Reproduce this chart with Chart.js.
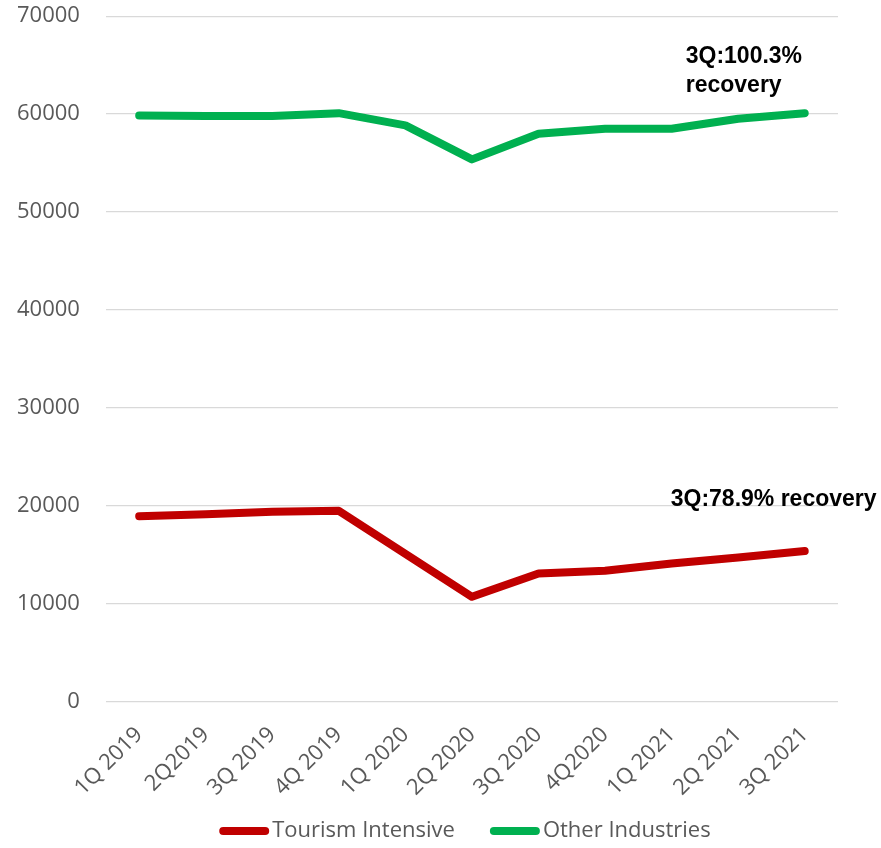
<!DOCTYPE html>
<html>
<head>
<meta charset="utf-8">
<script src="https://cdn.jsdelivr.net/npm/chart.js@4.4.0/dist/chart.umd.min.js"></script>
<style>
  html, body { margin: 0; padding: 0; background: #fff; }
  #wrap { width: 881px; height: 848px; position: relative; }
</style>
</head>
<body>
<div id="wrap"><canvas id="chart"></canvas></div>
<script>
const quarters = ['1Q 2019', '2Q2019', '3Q 2019', '4Q 2019', '1Q 2020', '2Q 2020',
                  '3Q 2020', '4Q2020', '1Q 2021', '2Q 2021', '3Q 2021'];
const tourismIntensive = [18950, 19150, 19390, 19490, 15100, 10710, 13100, 13370, 14120, 14730, 15380];
const otherIndustries  = [59850, 59800, 59820, 60100, 58850, 55380, 58000, 58510, 58510, 59530, 60100];
const notes = [
  { lines: ['3Q:100.3%', 'recovery'], series: 'other' },
  { lines: ['3Q:78.9% recovery'], series: 'tourism' }
];

const tickFont = { family: 'Open Sans', size: 22 };
const tickColor = '#595959';

// bold notes near the last quarter
const notesPlugin = {
  id: 'notes',
  afterDatasetsDraw(chart) {
    const ctx = chart.ctx;
    const x = chart.scales.x;
    const y = chart.scales.y;
    const last = quarters.length - 1;
    ctx.save();
    ctx.fillStyle = '#000';
    ctx.font = 'bold 23px "Liberation Sans"';
    ctx.textBaseline = 'alphabetic';
    ctx.textAlign = 'left';
    const gx = x.getPixelForValue(last) - 119;
    const gy = y.getPixelForValue(otherIndustries[last]) - 50;
    ctx.fillText(notes[0].lines[0], gx, gy);
    ctx.fillText(notes[0].lines[1], gx, gy + 29);
    const rx = x.getPixelForValue(last) - 134;
    const ry = y.getPixelForValue(tourismIntensive[last]) - 45;
    ctx.fillText(notes[1].lines[0], rx, ry);
    ctx.restore();
  }
};

// legend drawn by hand: thick line swatch right next to the text
const legendPlugin = {
  id: 'lineLegend',
  afterDraw(chart) {
    const ctx = chart.ctx;
    const area = chart.chartArea;
    const sw = 50, gap = 3, itemGap = 35;
    ctx.save();
    ctx.font = '22px "Open Sans"';
    const items = chart.data.datasets.map(ds => ({ ds, w: ctx.measureText(ds.label).width }));
    const total = items.reduce((s, it) => s + sw + gap + it.w, 0) + itemGap * (items.length - 1);
    let cx = (area.left + area.right) / 2 - total / 2 - 7;
    const cy = 831;
    ctx.textBaseline = 'middle';
    ctx.textAlign = 'left';
    for (const it of items) {
      ctx.strokeStyle = it.ds.borderColor;
      ctx.lineWidth = 8;
      ctx.lineCap = 'round';
      ctx.beginPath();
      ctx.moveTo(cx + 4, cy);
      ctx.lineTo(cx + sw - 4, cy);
      ctx.stroke();
      ctx.fillStyle = tickColor;
      ctx.fillText(it.ds.label, cx + sw + gap, cy);
      cx += sw + gap + it.w + itemGap;
    }
    ctx.restore();
  }
};

new Chart(document.getElementById('chart'), {
  type: 'line',
  data: {
    labels: quarters,
    datasets: [{
      label: 'Tourism Intensive',
      data: tourismIntensive,
      borderColor: '#c00000',
      backgroundColor: '#c00000',
      borderWidth: 8,
      borderCapStyle: 'round',
      borderJoinStyle: 'round',
      pointRadius: 0,
      tension: 0
    }, {
      label: 'Other Industries',
      data: otherIndustries,
      borderColor: '#00b050',
      backgroundColor: '#00b050',
      borderWidth: 8,
      borderCapStyle: 'round',
      borderJoinStyle: 'round',
      pointRadius: 0,
      tension: 0
    }]
  },
  options: {
    responsive: true,
    maintainAspectRatio: false,
    animation: false,
    layout: { padding: { left: 14, right: 43, top: 0, bottom: 35 } },
    scales: {
      x: {
        offset: true,
        grid: { display: false },
        border: { display: false },
        ticks: {
          font: tickFont,
          color: tickColor,
          maxRotation: 45,
          minRotation: 45,
          autoSkip: false,
          padding: 12
        }
      },
      y: {
        min: 0,
        max: 70000,
        grid: { color: '#d9d9d9', lineWidth: 1.3, tickLength: 23, tickColor: 'rgba(0,0,0,0)' },
        border: { display: false },
        ticks: {
          stepSize: 10000,
          font: tickFont,
          color: tickColor,
          padding: 3,
          callback: v => String(v)
        }
      }
    },
    plugins: {
      legend: { display: false },
      tooltip: { enabled: false }
    }
  },
  plugins: [notesPlugin, legendPlugin]
});
</script>
</body>
</html>
